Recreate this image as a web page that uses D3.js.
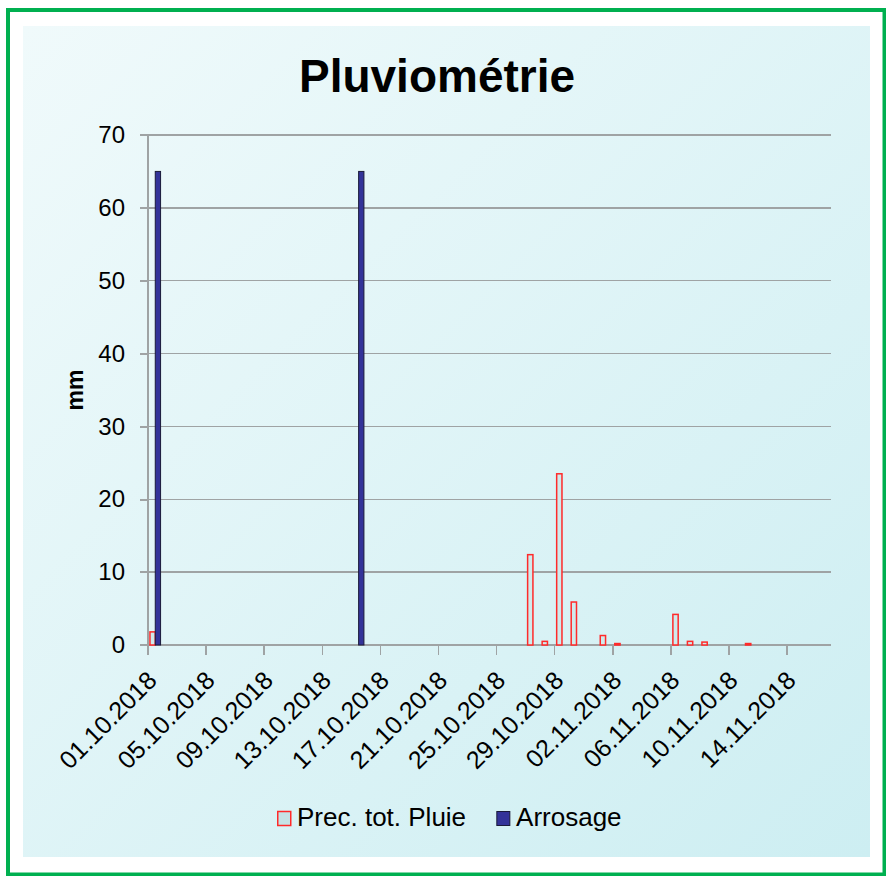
<!DOCTYPE html>
<html>
<head>
<meta charset="utf-8">
<script src="https://cdn.jsdelivr.net/npm/d3@7"></script>
<style>
  body { margin: 0; background: #fff; }
  svg text { font-family: "Liberation Sans", Arial, sans-serif; fill: #000; }
  .grid line { stroke: #9fa3a4; stroke-width: 1.5; shape-rendering: crispEdges; }
  .axis line, .axis path { stroke: #9fa3a4; stroke-width: 1.5; fill: none; shape-rendering: crispEdges; }
</style>
</head>
<body>
<svg id="chart" width="886" height="876"></svg>
<script>
// categories: one per day
const dates = [
  '01.10.2018', '02.10.2018', '03.10.2018', '04.10.2018', '05.10.2018', '06.10.2018', '07.10.2018', '08.10.2018',
  '09.10.2018', '10.10.2018', '11.10.2018', '12.10.2018', '13.10.2018', '14.10.2018', '15.10.2018', '16.10.2018',
  '17.10.2018', '18.10.2018', '19.10.2018', '20.10.2018', '21.10.2018', '22.10.2018', '23.10.2018', '24.10.2018',
  '25.10.2018', '26.10.2018', '27.10.2018', '28.10.2018', '29.10.2018', '30.10.2018', '31.10.2018', '01.11.2018',
  '02.11.2018', '03.11.2018', '04.11.2018', '05.11.2018', '06.11.2018', '07.11.2018', '08.11.2018', '09.11.2018',
  '10.11.2018', '11.11.2018', '12.11.2018', '13.11.2018', '14.11.2018', '15.11.2018', '16.11.2018'
];

const tickLabels = ['01.10.2018', '05.10.2018', '09.10.2018', '13.10.2018', '17.10.2018', '21.10.2018',
  '25.10.2018', '29.10.2018', '02.11.2018', '06.11.2018', '10.11.2018', '14.11.2018'];

const yTicks = [0, 10, 20, 30, 40, 50, 60, 70];

// mm per day
const pluie = [
  1.8, 0, 0, 0, 0, 0, 0, 0, 0, 0, 0, 0, 0, 0, 0, 0,
  0, 0, 0, 0, 0, 0, 0, 0, 0, 0, 12.4, 0.5, 23.5, 5.9, 0, 1.3,
  0.2, 0, 0, 0, 4.2, 0.5, 0.4, 0, 0, 0.2, 0, 0, 0, 0, 0
];
const arrosage = [
  65, 0, 0, 0, 0, 0, 0, 0, 0, 0, 0, 0, 0, 0, 65, 0,
  0, 0, 0, 0, 0, 0, 0, 0, 0, 0, 0, 0, 0, 0, 0, 0,
  0, 0, 0, 0, 0, 0, 0, 0, 0, 0, 0, 0, 0, 0, 0
];

const seriesNames = ['Prec. tot. Pluie', 'Arrosage'];

const svg = d3.select('#chart');

const plot = { left: 148, right: 830.7, top: 135, bottom: 645 };

// frame + background panel
const defs = svg.append('defs');
const grad = defs.append('linearGradient')
  .attr('id', 'bg')
  .attr('x1', 0).attr('y1', 0).attr('x2', 1).attr('y2', 1);
grad.append('stop').attr('offset', '0%').attr('stop-color', '#f0fafb');
grad.append('stop').attr('offset', '100%').attr('stop-color', '#cdeef2');

svg.append('rect')
  .attr('x', 8).attr('y', 10)
  .attr('width', 876.5).attr('height', 864.5)
  .attr('fill', '#fff')
  .attr('stroke', '#00b050')
  .attr('stroke-width', 4);

svg.append('rect')
  .attr('x', 23).attr('y', 26)
  .attr('width', 847).attr('height', 831)
  .attr('fill', 'url(#bg)');

// scales
const x = d3.scaleBand()
  .domain(dates)
  .range([plot.left, plot.right])
  .padding(0);

const xSub = d3.scaleBand()
  .domain(seriesNames)
  .range([0, x.bandwidth()])
  .paddingOuter(0.37)
  .paddingInner(0);

const y = d3.scaleLinear()
  .domain([0, 70])
  .range([plot.bottom, plot.top]);

// gridlines
svg.append('g')
  .attr('class', 'grid')
  .selectAll('line')
  .data(yTicks)
  .enter().append('line')
  .attr('x1', plot.left - 8)
  .attr('x2', plot.right)
  .attr('y1', d => y(d))
  .attr('y2', d => y(d));

// y axis
svg.append('g')
  .attr('class', 'axis y')
  .attr('transform', 'translate(' + plot.left + ',0)')
  .call(d3.axisLeft(y).tickValues(yTicks).tickSize(8).tickSizeOuter(0).tickPadding(15))
  .call(g => g.select('.domain').attr('d', 'M0,' + plot.top + 'V' + (plot.bottom + 10)))
  .selectAll('text')
  .attr('font-size', '24px');

// x axis: ticks on category boundaries every 4 days
const xAxis = svg.append('g')
  .attr('class', 'axis x')
  .attr('transform', 'translate(0,' + plot.bottom + ')');

xAxis.append('line')
  .attr('x1', plot.left).attr('x2', plot.right)
  .attr('y1', 0).attr('y2', 0);

xAxis.selectAll('line.tick')
  .data(tickLabels)
  .enter().append('line')
  .attr('class', 'tick')
  .attr('x1', d => x(d)).attr('x2', d => x(d))
  .attr('y1', 0).attr('y2', 10);

xAxis.selectAll('text')
  .data(tickLabels)
  .enter().append('text')
  .attr('transform', d => 'translate(' + (x(d) + x.bandwidth() / 2 + 3) + ',37) rotate(-45)')
  .attr('text-anchor', 'end')
  .attr('font-size', '25px')
  .text(d => d);

// bars
const rows = dates.map((d, i) => ({ date: d, values: [pluie[i], arrosage[i]] }));

const groups = svg.append('g')
  .selectAll('g')
  .data(rows)
  .enter().append('g')
  .attr('transform', d => 'translate(' + x(d.date) + ',0)');

groups.selectAll('rect')
  .data(d => d.values.map((v, k) => ({ key: seriesNames[k], value: v })).filter(e => e.value > 0))
  .enter().append('rect')
  .attr('x', d => xSub(d.key))
  .attr('y', d => y(d.value))
  .attr('width', xSub.bandwidth())
  .attr('height', d => y(0) - y(d.value))
  .attr('fill', d => d.key === 'Arrosage' ? '#333399' : '#cfeaec')
  .attr('stroke', d => d.key === 'Arrosage' ? '#1a1a3a' : '#ff2a2a')
  .attr('stroke-width', d => d.key === 'Arrosage' ? 1 : 1.5);

// title
svg.append('text')
  .attr('x', 437)
  .attr('y', 92)
  .attr('text-anchor', 'middle')
  .attr('font-size', '46px')
  .attr('font-weight', 'bold')
  .text('Pluviométrie');

// y label
svg.append('text')
  .attr('transform', 'translate(83,' + ((plot.top + plot.bottom) / 2) + ') rotate(-90)')
  .attr('text-anchor', 'middle')
  .attr('font-size', '23px')
  .attr('font-weight', 'bold')
  .text('mm');

// legend
const legend = svg.append('g').attr('transform', 'translate(277,0)');
let lx = 0;
seriesNames.forEach((name, k) => {
  legend.append('rect')
    .attr('x', lx + 0.75).attr('y', 811.5)
    .attr('width', 13).attr('height', 14)
    .attr('fill', k === 0 ? '#c5e3e6' : '#333399')
    .attr('stroke', k === 0 ? '#ff2a2a' : '#1a1a3a')
    .attr('stroke-width', k === 0 ? 1.5 : 1);
  const t = legend.append('text')
    .attr('x', lx + 20)
    .attr('y', 826)
    .attr('font-size', '26px')
    .text(name);
  lx += 20 + t.node().getComputedTextLength() + 30;
});
</script>
</body>
</html>
